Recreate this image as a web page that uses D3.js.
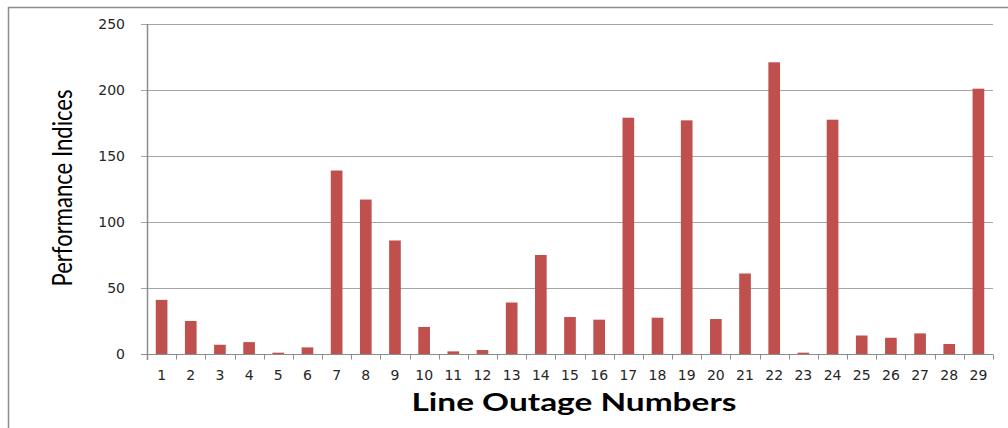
<!DOCTYPE html>
<html>
<head>
<meta charset="utf-8">
<script src="https://cdn.jsdelivr.net/npm/d3@7"></script>
<style>
  body { margin: 0; background: #fff; }
</style>
</head>
<body>
<div id="chart"></div>
<script>
// line outage numbers and their performance indices
const outages = d3.range(1, 30).map(String);
const indices = [41, 25, 7, 9, 1, 5, 139, 117, 86, 20.5,
    2, 3, 39, 75, 28, 26, 179, 27.5, 177, 26.5,
    61, 221, 1, 177.5, 14, 12.3, 15.6, 7.6, 201];
const yTicks = [0, 50, 100, 150, 200, 250];

function init() {
    const W = 1008, H = 428;
    const margin = { top: 24, right: 15, bottom: 74, left: 147 },
        w = W - margin.left - margin.right,
        h = H - margin.top - margin.bottom;

    const svg = d3.select("#chart")
        .append("svg")
        .attr("width", W)
        .attr("height", H);

    // outer chart frame (runs off the picture on the right and bottom)
    svg.append("rect")
        .attr("x", 8.5).attr("y", 7.5)
        .attr("width", 1100).attr("height", 500)
        .attr("fill", "none")
        .attr("stroke", "#8c8c8c")
        .attr("stroke-width", 1.5);

    const g = svg.append("g")
        .attr("transform", `translate(${margin.left},${margin.top})`);

    const xScale = d3.scaleBand()
        .domain(outages)
        .range([0, w])
        .paddingInner(0.6)
        .paddingOuter(0.3);

    const yScale = d3.scaleLinear()
        .domain([0, 250])
        .range([h, 0]);

    // gridlines
    g.append("g")
        .selectAll("line")
        .data(yTicks.slice(1))
        .enter()
        .append("line")
        .attr("x1", -6).attr("x2", w)
        .attr("y1", d => Math.round(yScale(d)) + 0.5)
        .attr("y2", d => Math.round(yScale(d)) + 0.5)
        .attr("stroke", "#a6a6a6");

    // bars
    g.selectAll(".bar")
        .data(indices)
        .enter()
        .append("rect")
        .attr("class", "bar")
        .attr("x", (d, i) => xScale(outages[i]))
        .attr("y", d => yScale(d))
        .attr("width", xScale.bandwidth())
        .attr("height", d => h - yScale(d))
        .attr("fill", "#c0504d");

    // x axis with ticks at category boundaries
    const xAxis = g.append("g")
        .attr("transform", `translate(0,${Math.round(h) + 0.5})`);
    xAxis.append("line")
        .attr("x1", -6).attr("x2", w)
        .attr("stroke", "#8c8c8c");
    xAxis.selectAll(".xtick")
        .data(d3.range(outages.length + 1))
        .enter()
        .append("line")
        .attr("x1", i => Math.round(i * w / outages.length) + 0.5)
        .attr("x2", i => Math.round(i * w / outages.length) + 0.5)
        .attr("y1", 0).attr("y2", 5)
        .attr("stroke", "#8c8c8c");
    xAxis.selectAll("text")
        .data(outages)
        .enter()
        .append("text")
        .attr("x", d => xScale(d) + xScale.bandwidth() / 2)
        .attr("y", 25)
        .attr("text-anchor", "middle")
        .style("font-family", "DejaVu Sans, sans-serif")
        .style("font-size", "14px")
        .attr("fill", "#262626")
        .text(d => d);

    // y axis
    g.append("line")
        .attr("x1", 0.5).attr("x2", 0.5)
        .attr("y1", 0).attr("y2", h + 6)
        .attr("stroke", "#8c8c8c")
        .attr("stroke-width", 1.5);
    g.append("g")
        .selectAll("text")
        .data(yTicks)
        .enter()
        .append("text")
        .attr("x", -22)
        .attr("y", d => yScale(d))
        .attr("dy", "0.35em")
        .attr("text-anchor", "end")
        .style("font-family", "DejaVu Sans, sans-serif")
        .style("font-size", "14px")
        .attr("fill", "#262626")
        .text(d => d);

    // axis titles
    svg.append("text")
        .attr("x", 574)
        .attr("y", 411)
        .attr("text-anchor", "middle")
        .attr("textLength", 325)
        .attr("lengthAdjust", "spacingAndGlyphs")
        .style("font-family", "Lato, sans-serif")
        .style("font-weight", "bold")
        .style("font-size", "25px")
        .text("Line Outage Numbers");

    svg.append("text")
        .attr("transform", "translate(72,188) rotate(-90)")
        .attr("text-anchor", "middle")
        .attr("textLength", 197)
        .attr("lengthAdjust", "spacingAndGlyphs")
        .style("font-family", "Lato, sans-serif")
        .style("font-size", "26px")
        .text("Performance Indices");
}

window.onload = init;
</script>
</body>
</html>
